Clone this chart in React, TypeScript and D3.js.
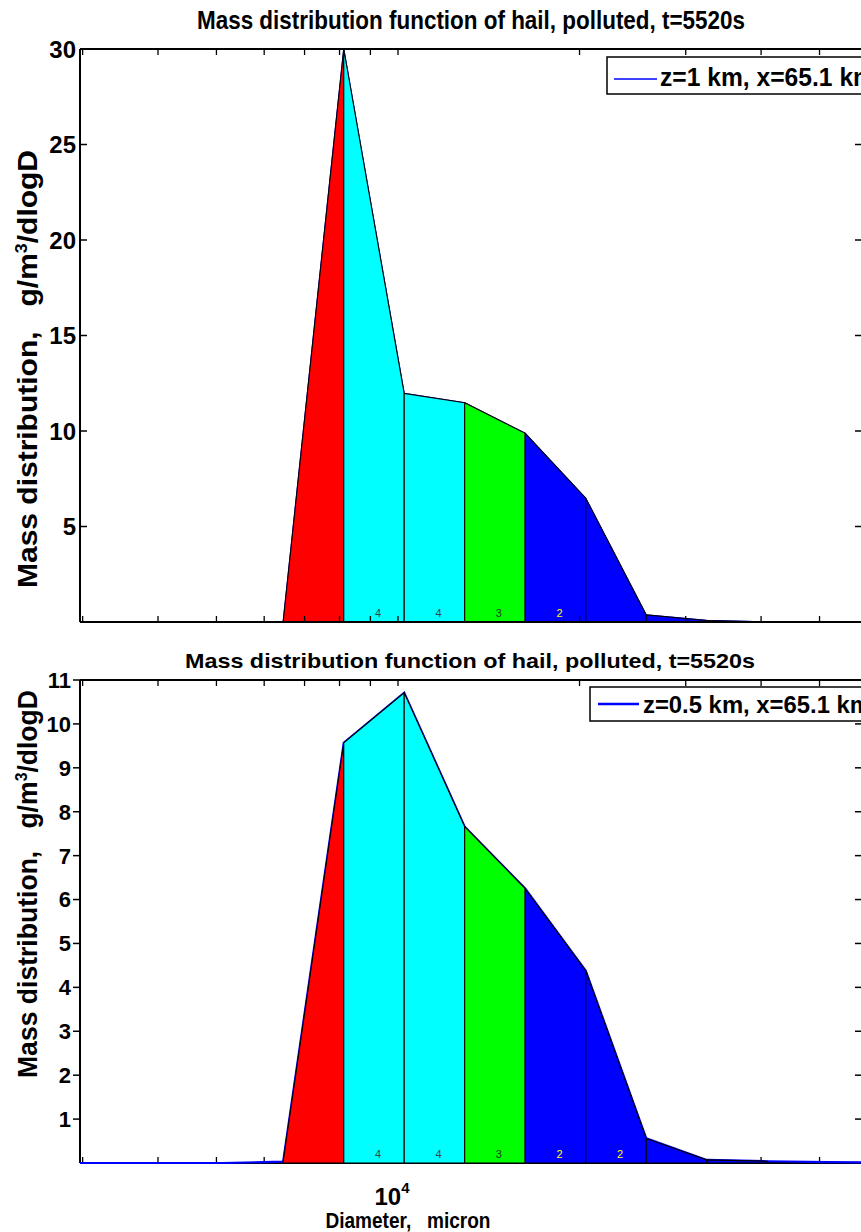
import React from "react";
import * as d3 from "d3";

// Bin boundary diameters (micron), mass-doubling grid
const diameters = [2563, 3230, 4070, 5120, 6450, 8130, 10240, 12900, 16250, 20480, 25800, 32500, 40960, 51600, 65000];
// Mass distribution (g/m3/dlogD) at each boundary
const massZ1 = [0, 0, 0, 0, 0, 30, 11.97, 11.48, 9.88, 6.48, 0.37, 0.08, 0, 0, 0];
const massZ05 = [0, 0, 0, 0, 0.03, 9.57, 10.71, 7.66, 6.25, 4.38, 0.56, 0.07, 0.04, 0.02, 0.01];
// Fill colour per bin (segment between consecutive diameters)
const binColors = [null, null, null, null, "#ff0000", "#00ffff", "#00ffff", "#00ff00", "#0000ff", "#0000ff", "#0000ff", "#0000ff", null, null];
const binLabelsZ1 = ["", "", "", "", "", "4", "4", "3", "2", "", "", "", "", ""];
const binLabelsZ05 = ["", "", "", "", "", "4", "4", "3", "2", "2", "", "", "", ""];
const xMinorTicks = [3000, 4000, 5000, 6000, 7000, 8000, 9000, 10000, 20000, 30000, 40000, 50000];
const yTicksZ1 = [5, 10, 15, 20, 25, 30];
const yTicksZ05 = [1, 2, 3, 4, 5, 6, 7, 8, 9, 10, 11];
const titleText = "Mass distribution function of hail, polluted, t=5520s";
const legendZ1 = "z=1 km, x=65.1 km";
const legendZ05 = "z=0.5 km, x=65.1 km";

const FONT = "'Liberation Sans', Arial, sans-serif";
const labelColor: Record<string, string> = { "4": "#2b4848", "3": "#203a20", "2": "#ffff00" };

const x = d3.scaleLog().domain([2970, 58800]).range([80, 862]);

type PanelProps = {
  id: string;
  top: number;
  bottom: number;
  yMax: number;
  yTicks: number[];
  values: number[];
  labels: string[];
  lineWidth: number;
  lineOnTop: boolean;
  tickFont: number;
  leftTickOutside: boolean;
};

function Panel(p: PanelProps) {
  const left = 80, right = 862;
  const y = d3.scaleLinear().domain([0, p.yMax]).range([p.bottom, p.top]);
  const pts: [number, number][] = diameters.map((d, i) => [x(d), y(p.values[i])]);
  const line = d3.line()(pts) || "";
  const patches = binColors.map((c, i) => {
    if (!c) return null;
    const x0 = x(diameters[i]), x1 = x(diameters[i + 1]);
    const poly = [[x0, p.bottom], [x0, y(p.values[i])], [x1, y(p.values[i + 1])], [x1, p.bottom]] as [number, number][];
    return <path key={i} d={(d3.line()(poly) || "") + "Z"} fill={c} stroke="#000" strokeWidth={1.1} />;
  });
  const labels = p.labels.map((t, i) => {
    if (!t) return null;
    const cx = x(Math.sqrt(diameters[i] * diameters[i + 1])) + 4;
    return (
      <text key={i} x={cx} y={p.bottom - 5} fontSize={11} fontFamily={FONT} textAnchor="middle" fill={labelColor[t]}>
        {t}
      </text>
    );
  });
  const frame = (
    <g>
      <line x1={left} x2={right} y1={p.top} y2={p.top} stroke="#000" strokeWidth={2} />
      <line x1={left} x2={left} y1={p.top} y2={p.bottom} stroke="#000" strokeWidth={2} />
      <line x1={right} x2={right} y1={p.top} y2={p.bottom} stroke="#000" strokeWidth={2} />
      <line x1={left} x2={right} y1={p.bottom} y2={p.bottom} stroke="#000" strokeWidth={2} />
      {xMinorTicks.map((t) => (
        <g key={t}>
          <line x1={x(t)} x2={x(t)} y1={p.top} y2={p.top + 6} stroke="#000" strokeWidth={1.3} />
          <line x1={x(t)} x2={x(t)} y1={p.bottom} y2={p.bottom - 6} stroke="#000" strokeWidth={1.3} />
        </g>
      ))}
      {p.yTicks.map((t) => (
        <g key={t}>
          <line x1={p.leftTickOutside ? left - 7 : left} x2={p.leftTickOutside ? left : left + 7} y1={y(t)} y2={y(t)} stroke="#000" strokeWidth={1.5} />
          <line x1={right - 7} x2={right} y1={y(t)} y2={y(t)} stroke="#000" strokeWidth={1.5} />
          <text x={p.leftTickOutside ? left - 9 : left - 4} y={y(t)} dy="0.36em" textAnchor="end" fontSize={p.tickFont} fontWeight="bold" fontFamily={FONT} fill="#000">
            {t}
          </text>
        </g>
      ))}
    </g>
  );
  return (
    <g>
      <defs>
        <clipPath id={"clip" + p.id}>
          <rect x={left} y={p.top - 1} width={right - left} height={p.bottom - p.top + 2} />
        </clipPath>
      </defs>
      {p.lineOnTop ? frame : null}
      <g clipPath={`url(#clip${p.id})`}>
        <path d={line} fill="none" stroke="#0000ff" strokeWidth={p.lineWidth} />
        {patches}
        {labels}
      </g>
      {p.lineOnTop ? null : frame}
    </g>
  );
}

export default function App() {
  return (
    <svg width={861} height={1232} style={{ position: "absolute", left: 0, top: 0, background: "#fff" }}>
      <rect width={861} height={1232} fill="#fff" />
      {/* top panel */}
      <text x={471} y={29} textAnchor="middle" fontSize={25} fontWeight="bold" fontFamily={FONT} textLength={548} lengthAdjust="spacingAndGlyphs">
        {titleText}
      </text>
      <Panel id="a" top={49} bottom={622} yMax={30} yTicks={yTicksZ1} values={massZ1} labels={binLabelsZ1} lineWidth={1.2} lineOnTop={false} tickFont={24} leftTickOutside={false} />
      <text transform="translate(37,369) rotate(-90)" textAnchor="middle" fontSize={27} fontWeight="bold" fontFamily={FONT} textLength={438} lengthAdjust="spacingAndGlyphs">
        Mass distribution,{"\u00a0\u00a0\u00a0"}g/m<tspan dy={-10} fontSize={16}>3</tspan><tspan dy={10}>/dlogD</tspan>
      </text>
      <rect x={607} y={57} width={270} height={37} fill="#fff" stroke="#000" strokeWidth={1.5} />
      <line x1={614} x2={657} y1={79} y2={79} stroke="#0000ff" strokeWidth={1.5} />
      <text x={660} y={86} fontSize={25} fontWeight="bold" fontFamily={FONT} textLength={215} lengthAdjust="spacingAndGlyphs">
        {legendZ1}
      </text>

      {/* bottom panel */}
      <text x={470} y={668} textAnchor="middle" fontSize={21} fontWeight="bold" fontFamily={FONT} textLength={570} lengthAdjust="spacingAndGlyphs">
        {titleText}
      </text>
      <Panel id="b" top={680} bottom={1163} yMax={11} yTicks={yTicksZ05} values={massZ05} labels={binLabelsZ05} lineWidth={2.2} lineOnTop={true} tickFont={22} leftTickOutside={true} />
      <text transform="translate(37,884) rotate(-90)" textAnchor="middle" fontSize={27} fontWeight="bold" fontFamily={FONT} textLength={388} lengthAdjust="spacingAndGlyphs">
        Mass distribution,{"\u00a0\u00a0\u00a0"}g/m<tspan dy={-10} fontSize={16}>3</tspan><tspan dy={10}>/dlogD</tspan>
      </text>
      <rect x={590} y={687} width={280} height={34} fill="#fff" stroke="#000" strokeWidth={1.5} />
      <line x1={598} x2={639} y1={704} y2={704} stroke="#0000ff" strokeWidth={2.5} />
      <text x={643} y={713} fontSize={23} fontWeight="bold" fontFamily={FONT} textLength={228} lengthAdjust="spacingAndGlyphs">
        {legendZ05}
      </text>

      {/* x axis labels */}
      <text x={x(10000) - 6} y={1205} textAnchor="middle" fontSize={24} fontWeight="bold" fontFamily={FONT}>
        10<tspan dy={-12} fontSize={15}>4</tspan>
      </text>
      <text x={408} y={1228} textAnchor="middle" fontSize={22} fontWeight="bold" fontFamily={FONT} textLength={165} lengthAdjust="spacingAndGlyphs">
        Diameter,{"\u00a0\u00a0\u00a0"}micron
      </text>
    </svg>
  );
}
